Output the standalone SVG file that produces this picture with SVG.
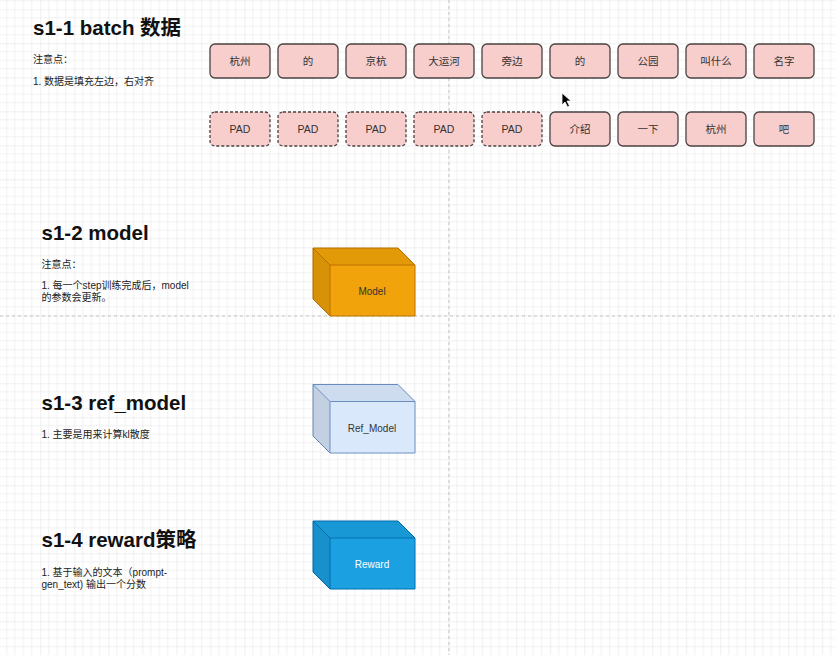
<svg xmlns="http://www.w3.org/2000/svg" width="835" height="655" viewBox="0 0 835 655">
<style>
.title{font-family:"Liberation Sans","Noto Sans CJK SC",sans-serif;font-weight:bold;font-size:20.5px;fill:#111}
.note{font-family:"Liberation Sans","Noto Sans CJK SC",sans-serif;font-size:10px;fill:#222}
.tok rect{fill:#f8cecc;stroke:#4a4242;stroke-width:1.3}
.tok.pad rect{stroke-dasharray:3 2}
.tok text{font-family:"Liberation Sans","Noto Sans CJK SC",sans-serif;font-size:10.5px;fill:#333;text-anchor:middle}
.cube text{font-family:"Liberation Sans",sans-serif;font-size:10px;text-anchor:middle;fill:#333}
.page{stroke:#c4c4c4;stroke-width:1;stroke-dasharray:3 3;fill:none}
</style>
<defs>
<pattern id="grid" x="6.3" y="9.3" width="34" height="34" patternUnits="userSpaceOnUse">
<path d="M8.5,0V34M17,0V34M25.5,0V34M0,8.5H34M0,17H34M0,25.5H34" stroke="#f1f1f1" stroke-width="1" fill="none"/>
<path d="M0,0V34M0,0H34" stroke="#e2e2e2" stroke-width="1" fill="none"/>
</pattern>
</defs>
<rect width="835" height="655" fill="#fff"/>
<rect width="835" height="655" fill="url(#grid)"/>
<path class="page" d="M449,0V655M0,316H835"/>

<g id="text-s1-1">
<text class="title" x="33" y="35">s1-1 batch 数据</text>
<text class="note" x="33" y="63">注意点：</text>
<text class="note" x="33" y="85">1. 数据是填充左边，右对齐</text>
</g>

<g id="row1">
<g id="t1" class="tok"><rect x="210" y="44" width="60" height="34" rx="5"/><text x="240" y="65">杭州</text></g>
<g id="t2" class="tok"><rect x="278" y="44" width="60" height="34" rx="5"/><text x="308" y="65">的</text></g>
<g id="t3" class="tok"><rect x="346" y="44" width="60" height="34" rx="5"/><text x="376" y="65">京杭</text></g>
<g id="t4" class="tok"><rect x="414" y="44" width="60" height="34" rx="5"/><text x="444" y="65">大运河</text></g>
<g id="t5" class="tok"><rect x="482" y="44" width="60" height="34" rx="5"/><text x="512" y="65">旁边</text></g>
<g id="t6" class="tok"><rect x="550" y="44" width="60" height="34" rx="5"/><text x="580" y="65">的</text></g>
<g id="t7" class="tok"><rect x="618" y="44" width="60" height="34" rx="5"/><text x="648" y="65">公园</text></g>
<g id="t8" class="tok"><rect x="686" y="44" width="60" height="34" rx="5"/><text x="716" y="65">叫什么</text></g>
<g id="t9" class="tok"><rect x="754" y="44" width="60" height="34" rx="5"/><text x="784" y="65">名字</text></g>
</g>

<g id="row2">
<g id="p1" class="tok pad"><rect x="210" y="112" width="60" height="34" rx="5"/><text x="240" y="133">PAD</text></g>
<g id="p2" class="tok pad"><rect x="278" y="112" width="60" height="34" rx="5"/><text x="308" y="133">PAD</text></g>
<g id="p3" class="tok pad"><rect x="346" y="112" width="60" height="34" rx="5"/><text x="376" y="133">PAD</text></g>
<g id="p4" class="tok pad"><rect x="414" y="112" width="60" height="34" rx="5"/><text x="444" y="133">PAD</text></g>
<g id="p5" class="tok pad"><rect x="482" y="112" width="60" height="34" rx="5"/><text x="512" y="133">PAD</text></g>
<g id="u6" class="tok"><rect x="550" y="112" width="60" height="34" rx="5"/><text x="580" y="133">介绍</text></g>
<g id="u7" class="tok"><rect x="618" y="112" width="60" height="34" rx="5"/><text x="648" y="133">一下</text></g>
<g id="u8" class="tok"><rect x="686" y="112" width="60" height="34" rx="5"/><text x="716" y="133">杭州</text></g>
<g id="u9" class="tok"><rect x="754" y="112" width="60" height="34" rx="5"/><text x="784" y="133">吧</text></g>
</g>

<g id="text-s1-2">
<text class="title" x="41.5" y="240">s1-2 model</text>
<text class="note" x="41.5" y="268">注意点：</text>
<text class="note" x="41.5" y="289">1. 每一个step训练完成后，model</text>
<text class="note" x="41.5" y="301">的参数会更新。</text>
</g>

<g id="model" class="cube">
<path d="M313,248H398L415,265V316H330L313,299Z" fill="#f0a30a" stroke="#bd7000"/>
<path d="M313,248L330,265V316L313,299Z" fill="#000" fill-opacity="0.1"/>
<path d="M313,248H398L415,265H330Z" fill="#000" fill-opacity="0.05"/>
<path d="M313,248L330,265H415M330,265V316" fill="none" stroke="#bd7000"/>
<text x="372" y="294.5">Model</text>
</g>

<g id="text-s1-3">
<text class="title" x="41.5" y="409.5">s1-3 ref_model</text>
<text class="note" x="41.5" y="438">1. 主要是用来计算kl散度</text>
</g>

<g id="ref_model" class="cube">
<path d="M313,384.5H398L415,401.5V453H330L313,436Z" fill="#dae8fc" stroke="#6c8ebf"/>
<path d="M313,384.5L330,401.5V453L313,436Z" fill="#000" fill-opacity="0.1"/>
<path d="M313,384.5H398L415,401.5H330Z" fill="#000" fill-opacity="0.05"/>
<path d="M313,384.5L330,401.5H415M330,401.5V453" fill="none" stroke="#6c8ebf"/>
<text x="372" y="431.5">Ref_Model</text>
</g>

<g id="text-s1-4">
<text class="title" x="41.5" y="547">s1-4 reward策略</text>
<text class="note" x="41.5" y="576">1. 基于输入的文本（prompt-</text>
<text class="note" x="41.5" y="588">gen_text) 输出一个分数</text>
</g>

<g id="reward" class="cube">
<path d="M313,521H398L415,538V589H330L313,572Z" fill="#1ba1e2" stroke="#006eaf"/>
<path d="M313,521L330,538V589L313,572Z" fill="#000" fill-opacity="0.1"/>
<path d="M313,521H398L415,538H330Z" fill="#000" fill-opacity="0.05"/>
<path d="M313,521L330,538H415M330,538V589" fill="none" stroke="#006eaf"/>
<text x="372" y="567.5" style="fill:#fff">Reward</text>
</g>

<g id="connectors"></g>

<path id="cursor" d="M562,93V105L565,102L567.5,107L569.5,106L567,101H571Z" fill="#000" stroke="#fff" stroke-width="0.8"/>
</svg>
